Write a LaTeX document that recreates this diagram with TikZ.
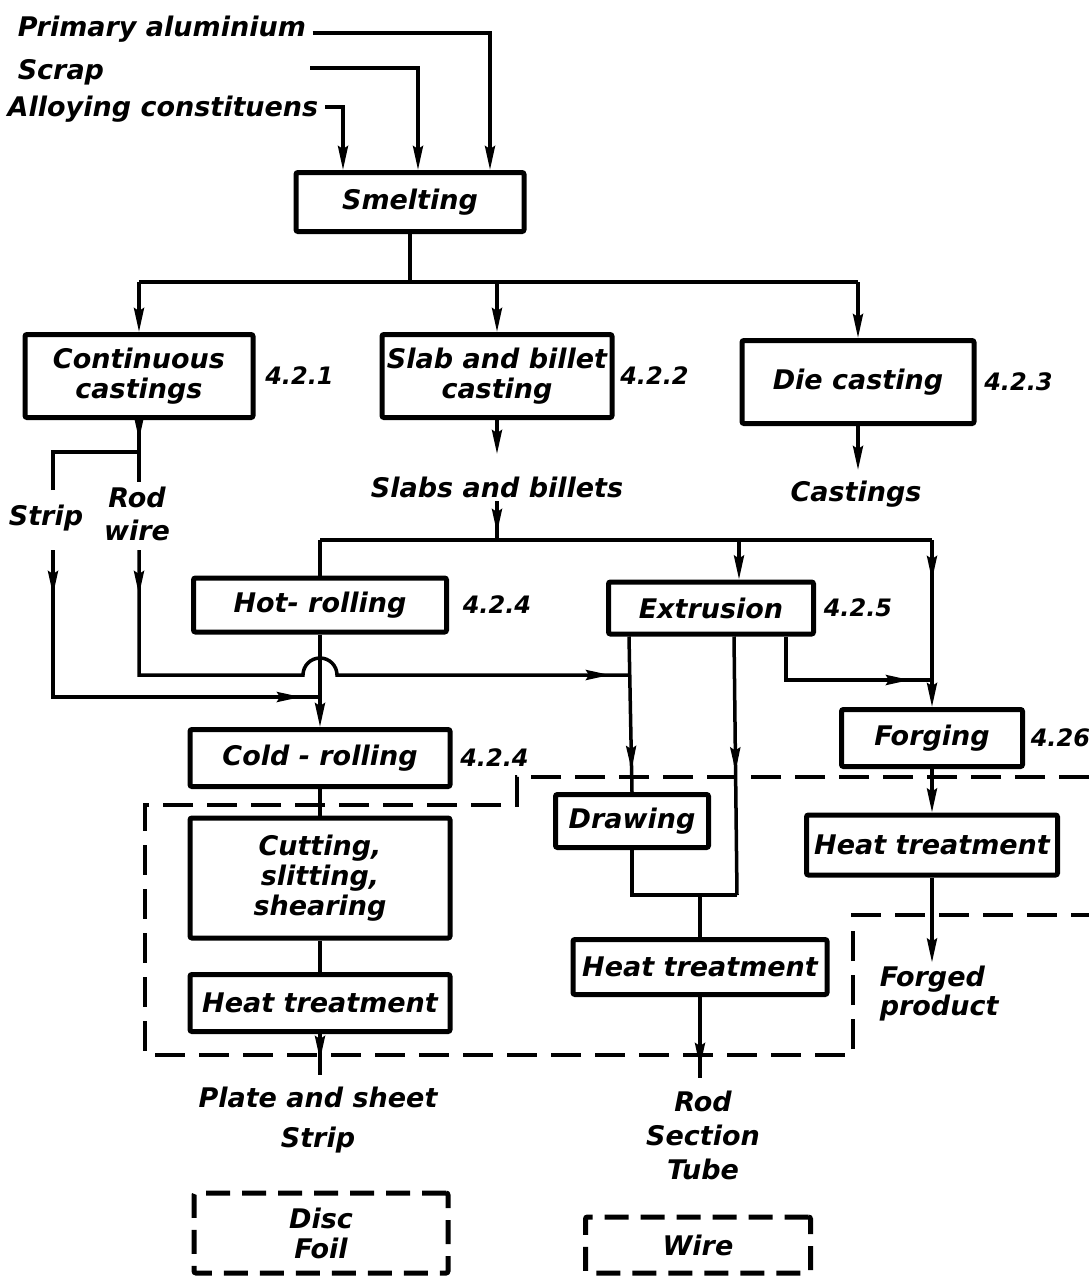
\documentclass[tikz,border=0pt]{standalone}
\usepackage{fontspec}
\setmainfont{DejaVu Sans}[ItalicFont={DejaVu Sans Oblique},BoldFont={DejaVu Sans Bold},
  BoldItalicFont={DejaVu Sans Bold Oblique}]
\usetikzlibrary{arrows.meta,positioning,decorations.markings}

\begin{document}
\begin{tikzpicture}[x=1pt,y=-1pt,
    font=\fontsize{27}{34}\selectfont\bfseries\itshape,
    >={Stealth[length=24pt,width=10pt,inset=3pt]},
    line width=3.5pt,
    box/.style={draw,line width=5pt,rounded corners=2pt,inner sep=1pt,align=center,
                font=\fontsize{27}{30}\selectfont\bfseries\itshape},
    dbox/.style={box,dash pattern=on 24pt off 12pt},
    txt/.style={inner sep=0pt,align=center},
    secno/.style={inner sep=0pt,font=\fontsize{24}{26}\selectfont\bfseries\itshape},
    tipat/.style={postaction={decorate},
                  decoration={markings,mark=at position #1 with {\arrow{>}}}},
    twotips/.style 2 args={postaction={decorate},
                  decoration={markings,mark=at position #1 with {\arrow{>}},
                                       mark=at position #2 with {\arrow{>}}}},
    bound/.style={line width=3.5pt,dash pattern=on 30pt off 14pt}]
  \useasboundingbox (0,0) rectangle (1089,1282);

  % raw materials
  \node[txt,anchor=base west] (prim)  at (16,36)  {Primary aluminium};
  \node[txt,anchor=base west] (scrap) at (16,79)  {Scrap};
  \node[txt,anchor=base west] (alloy) at (6,116)  {Alloying constituens};
  \coordinate (scrapin) at (310,68);

  \node[box,minimum width=228pt,minimum height=59pt] (smelt) at (410,202) {Smelting};

  % casting
  \node[box,minimum width=228pt,minimum height=83pt] (cont) at (139,376) {Continuous\\castings};
  \node[box,minimum width=230pt,minimum height=83pt] (slab) at (497,376) {Slab and billet\\casting};
  \node[box,minimum width=232pt,minimum height=83pt] (die)  at (858,382) {Die casting};
  \node[secno,right=8pt of cont] (n421) {4.2.1};
  \node[secno,right=4pt of slab] (n422) {4.2.2};
  \node[secno,right=6pt of die]  (n423) {4.2.3};

  \node[txt] (strip) at (46,518) {Strip};
  \node[txt,font=\fontsize{27}{33}\selectfont\bfseries\itshape] (rodwire) at (137,514) {Rod\\wire};
  \node[txt] (slabs) at (497,487) {Slabs and billets};
  \node[txt] (castings) at (856,494) {Castings};

  % forming
  \node[box,minimum width=253pt,minimum height=54pt] (hot)  at (320,605) {Hot- rolling};
  \node[box,minimum width=205pt,minimum height=52pt] (extr) at (711,608) {Extrusion};
  \node[box,minimum width=260pt,minimum height=57pt] (cold) at (320,758) {Cold - rolling};
  \node[box,minimum width=181pt,minimum height=57pt] (forg) at (932,738) {Forging};
  \node[secno,right=12pt of hot]  (n424a) {4.2.4};
  \node[secno,right=6pt of extr]  (n425)  {4.2.5};
  \node[secno,right=6pt of cold]  (n424b) {4.2.4};
  \node[secno,right=4pt of forg]  (n426)  {4.26};

  % finishing
  \node[box,minimum width=260pt,minimum height=120pt] (cut) at (320,878) {Cutting,\\slitting,\\shearing};
  \node[box,minimum width=260pt,minimum height=57pt] (heatA) at (320,1003) {Heat treatment};
  \node[box,minimum width=153pt,minimum height=53pt] (draw)  at (632,821) {Drawing};
  \node[box,minimum width=254pt,minimum height=55pt] (heatB) at (700,967) {Heat treatment};
  \node[box,minimum width=251pt,minimum height=60pt] (heatC) at (932,845) {Heat treatment};

  % products
  \node[txt,font=\fontsize{27}{40}\selectfont\bfseries\itshape] (plate) at (318,1120) {Plate and sheet\\Strip};
  \node[txt,font=\fontsize{27}{34}\selectfont\bfseries\itshape] (rodsec) at (703,1135) {Rod\\Section\\Tube};
  \node[txt,align=left,anchor=west,font=\fontsize{27}{29}\selectfont\bfseries\itshape] (forged) at (878,994) {Forged\\product};
  \node[dbox,minimum width=254pt,minimum height=80pt,font=\fontsize{27}{30}\selectfont\bfseries\itshape] (disc) at (321,1233) {Disc\\Foil};
  \node[dbox,minimum width=225pt,minimum height=56pt] (wire) at (698,1245) {Wire};

  % into smelting
  \draw[->] ([xshift=5pt,yshift=3pt]prim.base east) -| ([xshift=80pt]smelt.north);
  \draw[->] (scrapin) -| ([xshift=8pt]smelt.north);
  \draw[->] ([xshift=5pt,yshift=9pt]alloy.base east) -| ([xshift=-67pt]smelt.north);

  \coordinate (bus1) at (410,282);
  \draw (smelt.south) -- (bus1);
  \draw (cont.north |- bus1) -- (die.north |- bus1);
  \draw[->] (cont.north |- bus1) -- (cont.north);
  \draw[->] (slab.north |- bus1) -- (slab.north);
  \draw[->] (die.north |- bus1) -- (die.north);

  % continuous casting outputs
  \coordinate (cj) at (139,452);
  \coordinate (stripend) at (53,490);
  \coordinate (rodend) at (139,482);
  \draw[tipat=-12pt] (cont.south) -- (cj);
  \draw (stripend) |- (cj) -- (rodend);

  \coordinate (stripdn) at (53,550);
  \coordinate (roddn) at (139,550);
  \coordinate (hopL) at (303,675);
  \coordinate (coldin) at (320,697);
  \coordinate (xl) at ([xshift=23pt]extr.south west);
  \coordinate (xm) at ([xshift=128pt]extr.south west);
  \coordinate (xr) at ([xshift=180pt]extr.south west);
  \draw[twotips={45pt}{-19pt}] (stripdn) |- (coldin);
  \draw[twotips={45pt}{-19pt}] (roddn) |- (hopL)
        arc[start angle=180,end angle=0,radius=17pt] -- (xl |- hopL);

  % slabs and billets
  \draw[->] (slab.south) -- ++(0,34);
  \draw[->] (die.south) -- ++(0,44);
  \coordinate (bus2) at (497,540);
  \coordinate (fbus) at (932,540);
  \coordinate (fj) at (932,680);
  \coordinate (xin) at ([xshift=28pt]extr.north);
  \draw[tipat=-7pt] ([yshift=-2pt]slabs.south) -- (bus2);
  \draw (hot.north |- bus2) -- (fbus);
  \draw (hot.north |- bus2) -- (hot.north);
  \draw[->] (xin |- bus2) -- (xin);
  \draw[tipat=40pt] (fbus) -- (fj);
  \draw[->] (fj) -- (forg.north);

  % extrusion outputs
  \coordinate (dj) at (737,895);
  \draw[tipat=-22pt] (xl) -- (draw.north);
  \draw[tipat=135pt] (xm) -- (dj);
  \draw[tipat=-22pt] (xr) |- (fj);
  \draw (draw.south) |- (dj);
  \draw (heatB.north |- dj) -- (heatB.north);

  % rolling line
  \draw[->] (hot.south) -- (cold.north);
  \draw (cold.south) -- (cut.north);
  \draw (cut.south) -- (heatA.north);
  \coordinate (plateout) at (320,1075);
  \coordinate (rodout) at (700,1078);
  \draw[tipat=-15pt] (heatA.south) -- (plateout);
  \draw[tipat=-11pt] (heatB.south) -- (rodout);
  \draw[->] (forg.south) -- (heatC.north);
  \draw[->] (heatC.south) -- ++(0,85);

  % finishing area
  \draw[bound] (1089,777) -- (517,777) -- (517,805) -- (145,805) -- (145,1055)
        -- (853,1055) -- (853,915) -- (1089,915);
\end{tikzpicture}
\end{document}
